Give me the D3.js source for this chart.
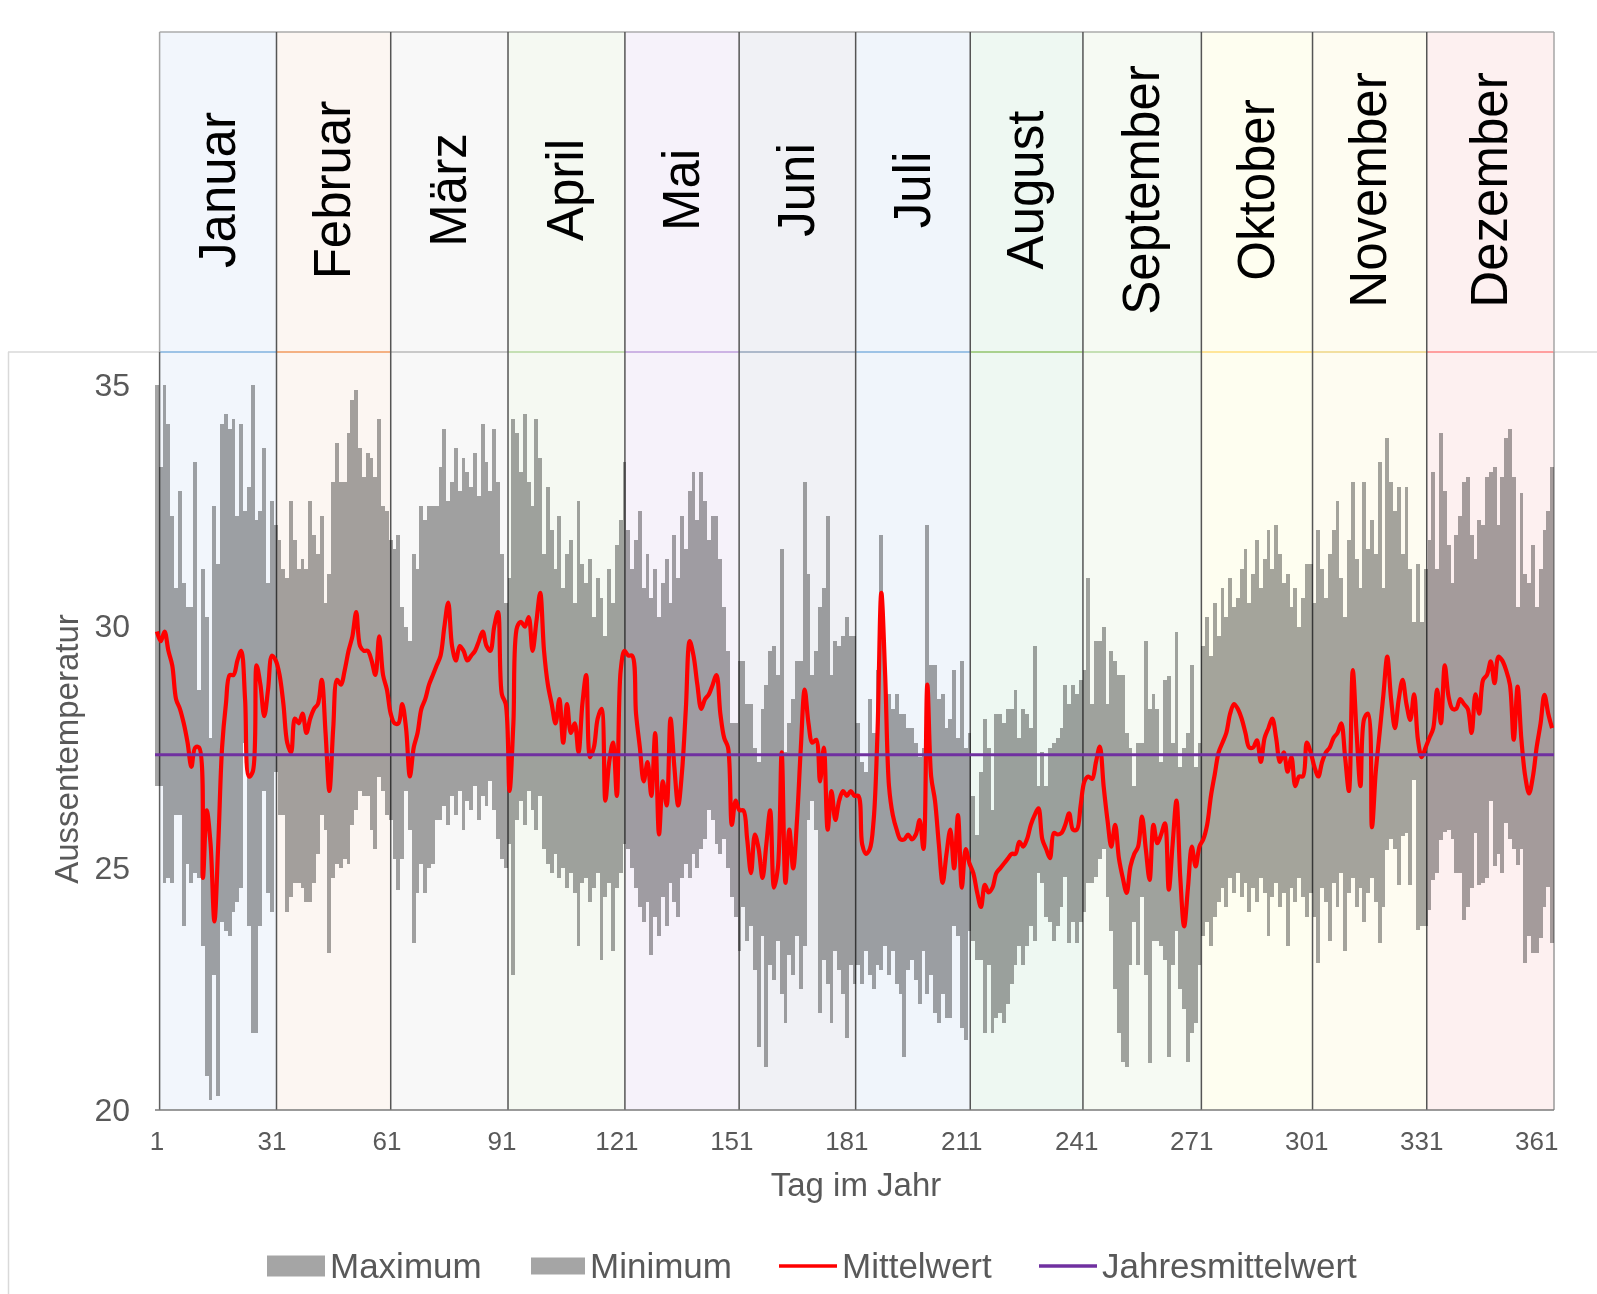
<!DOCTYPE html>
<html>
<head>
<meta charset="utf-8">
<script src="https://cdn.jsdelivr.net/npm/d3@7"></script>
<style>
  html, body { margin: 0; padding: 0; background: #ffffff; }
  svg { display: block; font-family: "Liberation Sans", Arial, sans-serif; }
</style>
</head>
<body>
<svg id="chart" width="1597" height="1294"></svg>
<script>
// ---- data ---------------------------------------------------------------
const monthNames = ["Januar", "Februar", "März", "April", "Mai", "Juni",
                    "Juli", "August", "September", "Oktober", "November", "Dezember"];
// month panel boundaries, in day units along the year axis
const monthEdges = [1.2, 31.7, 61.5, 92.1, 122.6, 152.4, 182.8, 212.7, 242.1, 273.0, 302.0, 331.8, 365.0];
const monthFill = ["#f2f6fc", "#fcf6f2", "#f8f8f8", "#f5f9f2", "#f6f2fa", "#f0f1f5",
                   "#f0f5fb", "#eef8f2", "#f6faf3", "#fefef0", "#fefcf1", "#fdf0f0"];
const monthAccent = ["#9dc3e6", "#f4b183", "#c9c9c9", "#c5e0b4", "#cdb4e4", "#adb9ca",
                     "#9dc3e6", "#a9d18e", "#c5e0b4", "#ffe699", "#f2dfa0", "#ff9f9f"];

const dailyMax = [
  35.0, 33.3, 35.0, 34.2, 32.3, 30.8, 32.8, 30.9, 30.4, 30.4, 33.4, 28.7, 31.2, 30.2, 27.7, 32.5, 31.3, 34.2, 34.4, 34.1, 34.3, 32.3, 34.2, 32.4, 32.9, 35.0, 32.2, 32.4, 33.7, 30.9, 32.6,
  32.1, 31.8, 31.2, 31.0, 32.6, 31.8, 31.2, 31.4, 31.2, 32.6, 31.9, 31.5, 32.3, 30.5, 31.1, 33.0, 33.8, 33.0, 33.0, 34.0, 34.7, 34.9, 33.7, 33.1, 33.6, 33.5, 33.1, 34.3,
  32.5, 32.4, 31.8, 31.6, 31.9, 30.4, 30.0, 29.7, 31.5, 31.2, 32.5, 32.2, 32.5, 32.5, 32.5, 33.3, 34.1, 32.6, 33.0, 33.7, 32.8, 33.5, 33.2, 32.9, 33.6, 32.7, 34.2, 33.4, 32.8, 34.1, 33.0,
  31.5, 30.5, 31.0, 34.3, 34.0, 33.2, 34.4, 33.0, 32.5, 34.3, 33.5, 31.5, 32.9, 32.0, 31.2, 32.3, 30.8, 31.5, 31.8, 30.5, 32.6, 31.3, 30.9, 31.4, 30.2, 31.0, 30.6, 29.8, 31.2, 30.5,
  31.7, 32.2, 33.4, 32.0, 31.2, 31.8, 32.4, 30.8, 31.5, 30.6, 31.2, 30.2, 30.9, 31.4, 30.5, 31.9, 31.0, 32.3, 31.6, 32.8, 33.2, 32.2, 33.2, 32.6, 31.8, 32.3, 32.3, 31.4, 30.4, 29.5, 28.0,
  28.0, 29.3, 29.3, 28.4, 28.4, 27.5, 27.2, 28.3, 28.8, 29.5, 29.6, 29.0, 31.6, 27.4, 28.0, 28.5, 29.3, 29.3, 33.0, 31.1, 29.0, 29.5, 30.4, 30.8, 32.3, 29.0, 29.7, 29.6, 29.8, 30.2,
  29.8, 29.8, 28.0, 27.2, 27.0, 28.5, 27.8, 29.1, 31.9, 29.1, 28.6, 28.3, 28.6, 28.2, 28.2, 27.9, 27.9, 27.6, 27.3, 27.5, 32.1, 29.2, 29.2, 28.5, 28.6, 27.9, 28.1, 29.1, 27.7, 29.3, 27.5,
  27.8, 26.5, 25.7, 27.0, 28.1, 27.5, 26.2, 28.2, 28.2, 28.0, 28.3, 28.3, 28.7, 27.7, 28.3, 28.2, 27.9, 29.6, 26.7, 27.4, 26.7, 27.5, 27.6, 27.7, 27.9, 28.8, 28.4, 28.8, 28.6, 28.9, 29.1,
  31.0, 28.4, 29.7, 29.7, 30.0, 28.4, 29.5, 29.3, 29.0, 29.0, 27.8, 27.5, 26.7, 27.6, 27.6, 29.7, 28.3, 28.6, 28.3, 27.2, 28.9, 28.97, 27.6, 29.9, 27.1, 27.5, 27.8, 29.2, 27.1, 27.6,
  29.6, 30.2, 29.4, 30.5, 29.8, 30.8, 30.2, 31.0, 30.4, 30.6, 31.2, 31.6, 30.5, 31.1, 31.8, 30.8, 31.4, 32.0, 31.2, 32.1, 31.5, 30.9, 31.1, 30.4, 30.8, 30.0, 30.6, 31.3, 31.3, 30.5, 32.0,
  31.2, 30.6, 31.5, 32.0, 32.6, 31.0, 30.2, 31.8, 33.0, 31.4, 30.8, 33.0, 31.6, 32.2, 31.5, 33.4, 30.8, 33.9, 33.0, 32.4, 32.9, 31.5, 32.9, 31.2, 30.1, 31.3, 30.1, 31.2, 31.8, 33.2,
  31.2, 34.0, 32.8, 31.7, 30.9, 31.9, 32.3, 33.0, 33.1, 31.9, 31.4, 32.2, 32.1, 33.1, 33.2, 33.3, 32.1, 33.1, 33.9, 34.1, 33.1, 30.4, 32.76, 31.1, 30.9, 31.7, 30.4, 31.2, 32.0, 32.4, 33.3
];

const dailyMin = [
  26.7, 26.7, 24.7, 24.8, 24.7, 26.1, 26.1, 23.8, 25.1, 24.7, 24.9, 24.8, 23.4, 20.7, 20.2, 22.8, 20.3, 23.9, 23.7, 23.6, 24.1, 24.3, 24.6, 27.6, 23.8, 21.6, 21.6, 23.8, 26.6, 24.5, 24.1,
  27.0, 26.1, 26.1, 24.1, 24.4, 24.7, 24.7, 24.6, 24.3, 24.3, 24.7, 25.3, 26.1, 25.8, 23.25, 24.8, 25.1, 25.0, 25.2, 25.1, 25.9, 26.2, 26.6, 26.5, 26.5, 25.8, 25.4, 26.9,
  26.6, 26.1, 26.0, 25.2, 24.55, 25.2, 26.6, 25.8, 23.45, 24.5, 25.1, 24.5, 25.0, 25.1, 26.0, 26.0, 26.3, 25.9, 26.5, 26.1, 26.6, 25.8, 26.4, 26.2, 26.7, 26.0, 26.5, 26.3, 26.8, 26.2, 25.6,
  25.2, 25.0, 25.5, 22.8, 26.0, 26.4, 25.9, 26.6, 26.2, 25.8, 26.5, 25.4, 25.1, 24.9, 25.3, 24.8, 25.0, 24.6, 24.9, 24.5, 23.4, 24.7, 24.8, 24.3, 24.6, 24.9, 23.1, 24.4, 24.7, 23.3,
  24.6, 24.9, 25.5, 25.4, 25.0, 24.6, 24.2, 23.9, 24.3, 23.2, 24.0, 23.6, 24.4, 23.8, 24.7, 24.3, 24.0, 24.8, 25.1, 24.8, 25.3, 25.0, 25.4, 25.6, 26.2, 26.0, 25.5, 25.3, 25.6, 25.0, 24.4,
  24.0, 23.3, 24.2, 23.5, 23.8, 22.9, 21.3, 23.6, 20.9, 23.0, 22.7, 23.5, 22.4, 21.8, 23.2, 22.8, 23.6, 22.5, 23.4, 26.0, 26.4, 25.8, 22.0, 23.1, 22.6, 21.8, 23.3, 22.9, 22.4, 21.5,
  23.0, 22.6, 23.0, 22.6, 23.3, 22.8, 22.5, 23.0, 22.9, 23.4, 22.8, 23.3, 22.6, 22.4, 21.1, 22.9, 23.1, 22.7, 22.2, 23.3, 22.4, 22.8, 22.0, 21.8, 22.4, 21.9, 21.9, 23.8, 23.6, 21.7, 21.45,
  23.7, 23.5, 23.1, 23.1, 21.6, 23.0, 21.6, 21.9, 22.0, 21.8, 22.2, 22.6, 23.0, 23.4, 23.0, 23.4, 23.8, 23.5, 24.9, 24.7, 24.0, 23.9, 23.5, 23.8, 24.2, 24.83, 23.45, 23.9, 23.45, 23.9, 24.1,
  24.7, 24.7, 24.83, 25.2, 25.4, 24.4, 23.7, 22.5, 21.6, 21.0, 20.9, 23.0, 23.9, 23.0, 24.4, 22.8, 20.97, 23.5, 23.5, 23.4, 23.1, 21.1, 23.0, 23.7, 22.5, 22.1, 21.0, 21.6, 21.8, 23.0,
  23.6, 23.9, 23.4, 24.0, 24.3, 24.6, 24.2, 24.8, 24.5, 24.9, 24.4, 24.7, 24.1, 24.6, 24.3, 24.8, 24.5, 23.6, 24.4, 24.7, 24.2, 24.5, 23.4, 24.6, 24.3, 24.8, 24.4, 24.0, 24.5, 24.0, 23.05,
  24.6, 24.3, 23.5, 24.7, 24.2, 24.9, 23.3, 24.5, 24.8, 24.2, 24.6, 23.9, 24.5, 24.8, 24.3, 23.45, 24.2, 25.38, 25.6, 25.4, 24.66, 25.66, 25.73, 24.66, 26.83, 23.73, 23.8, 23.8, 24.14, 24.76,
  24.9, 25.59, 25.76, 25.8, 25.6, 24.9, 24.9, 23.94, 24.2, 24.6, 25.73, 24.66, 24.7, 24.8, 26.4, 25.04, 25.3, 24.9, 25.93, 25.6, 25.4, 25.07, 25.4, 23.04, 23.59, 23.24, 23.24, 23.56, 24.21, 24.62, 23.45
];

const dailyMean = [
  29.9, 29.7, 29.9, 29.5, 29.2, 28.5, 28.3, 28.0, 27.6, 27.1, 27.5, 27.5, 24.8, 26.2, 25.5, 23.9, 25.5, 27.5, 28.4, 29.0, 29.0, 29.3, 29.5, 28.5, 26.9, 27.0, 29.2, 28.8, 28.15, 28.7, 29.4,
  29.3, 29.0, 28.4, 27.6, 27.4, 28.1, 28.0, 28.2, 27.8, 28.1, 28.3, 28.4, 28.9, 27.8, 26.6, 27.9, 28.9, 28.8, 29.1, 29.5, 29.8, 30.3, 29.6, 29.5, 29.5, 29.3, 29.0, 29.8,
  29.0, 28.7, 28.2, 28.0, 28.0, 28.4, 27.9, 26.9, 27.5, 27.8, 28.3, 28.5, 28.8, 29.0, 29.2, 29.4, 30.0, 30.5, 29.6, 29.3, 29.6, 29.5, 29.3, 29.4, 29.5, 29.7, 29.9, 29.6, 29.5, 30.0, 30.3,
  28.6, 28.4, 26.6, 28.0, 30.0, 30.1, 30.0, 30.2, 29.5, 30.1, 30.7, 29.5, 28.8, 28.4, 28.0, 28.5, 27.6, 28.4, 27.8, 28.0, 27.4, 28.4, 29.0, 27.3, 27.5, 28.1, 28.3, 26.4, 27.2, 27.6,
  26.5, 29.1, 29.5, 29.4, 29.4, 28.2, 27.5, 26.8, 27.2, 26.5, 27.8, 25.7, 26.8, 26.3, 28.1, 27.1, 26.3, 27.0, 28.3, 29.7, 29.4, 28.8, 28.3, 28.5, 28.6, 28.8, 29.0, 28.2, 27.7, 27.5, 25.9,
  26.4, 26.2, 26.2, 25.6, 24.9, 25.7, 25.4, 24.8, 25.5, 26.2, 24.6, 25.0, 27.4, 24.7, 25.8, 25.0, 26.0, 27.5, 28.7, 28.0, 27.6, 27.66, 26.8, 27.5, 25.8, 26.6, 26.0, 26.4, 26.6, 26.5,
  26.6, 26.5, 26.5, 25.5, 25.3, 25.4, 26.0, 27.8, 30.7, 29.0, 26.7, 26.1, 25.8, 25.6, 25.6, 25.7, 25.6, 25.7, 26.0, 25.4, 28.8, 26.9, 26.4, 25.5, 24.7, 25.3, 25.8, 25.0, 26.1, 24.6, 25.4,
  25.1, 24.9, 24.5, 24.2, 24.66, 24.5, 24.6, 24.9, 25.0, 25.1, 25.2, 25.3, 25.3, 25.55, 25.45, 25.6, 25.9, 26.1, 26.24, 25.6, 25.4, 25.21, 25.73, 25.7, 25.73, 25.9, 26.14, 25.8, 25.8, 26.3, 26.8,
  26.9, 26.85, 27.2, 27.52, 26.7, 26.0, 25.45, 25.9, 25.2, 24.8, 24.49, 25.04, 25.3, 25.45, 26.07, 25.4, 24.76, 25.9, 25.52, 25.7, 25.93, 24.56, 25.5, 26.4, 24.8, 23.8, 24.6, 25.45, 25.04, 25.45,
  25.6, 25.9, 26.5, 26.95, 27.4, 27.6, 27.8, 28.2, 28.4, 28.3, 28.1, 27.8, 27.5, 27.5, 27.65, 27.2, 27.7, 27.9, 28.1, 27.7, 27.2, 27.4, 27.0, 27.3, 26.7, 26.9, 26.9, 27.6, 27.4, 27.1, 26.9,
  27.2, 27.4, 27.5, 27.7, 27.8, 28.0, 27.3, 26.6, 29.1, 27.8, 26.7, 28.1, 28.2, 25.85, 27.0, 27.8, 28.6, 29.38, 28.5, 27.9, 28.5, 28.9, 28.4, 28.07, 28.6, 27.66, 27.3, 27.5, 27.7, 27.9,
  28.7, 28.0, 29.2, 28.55, 28.3, 28.3, 28.5, 28.4, 28.3, 27.8, 28.6, 28.2, 28.9, 29.0, 29.28, 28.83, 29.38, 29.3, 29.1, 28.8, 27.66, 28.76, 27.66, 26.9, 26.55, 26.9, 27.52, 28.0, 28.59, 28.2, 27.9
];

const annualMean = 27.35;
const dayTicks = [1, 31, 61, 91, 121, 151, 181, 211, 241, 271, 301, 331, 361];
const tempTicks = [20, 25, 30, 35];

const legendItems = [
  { label: "Maximum", kind: "bar" },
  { label: "Minimum", kind: "bar" },
  { label: "Mittelwert", kind: "line", color: "#ff0000" },
  { label: "Jahresmittelwert", kind: "line", color: "#7030a0" }
];

// ---- layout -------------------------------------------------------------
const W = 1597, H = 1294;
const plot = { left: 155, right: 1554, top: 385, bottom: 1110 };
const header = { top: 32, bottom: 352 };
const textGray = "#595959";
const barGray = "#a5a5a5";

const svg = d3.select("#chart");

const days = d3.range(1, dailyMean.length + 1);
const rows = days.map((d, i) => ({ day: d, max: dailyMax[i], min: dailyMin[i], mean: dailyMean[i] }));

const xBand = d3.scaleBand().domain(days).range([plot.left, plot.right]).paddingInner(0).paddingOuter(0);
const xLin = d3.scaleLinear().domain([0, days.length]).range([plot.left, plot.right]);
const y = d3.scaleLinear().domain([20, 35]).range([plot.bottom, plot.top]);
const xc = d => xBand(d) + xBand.bandwidth() / 2;

// ---- chart frame ----------------------------------------------------------
svg.append("line")
  .attr("x1", 8).attr("x2", W).attr("y1", header.bottom).attr("y2", header.bottom)
  .attr("stroke", "#d9d9d9").attr("stroke-width", 1.5);
svg.append("line")
  .attr("x1", 8.5).attr("x2", 8.5).attr("y1", header.bottom).attr("y2", H)
  .attr("stroke", "#d9d9d9").attr("stroke-width", 1.5);

// ---- month panels ---------------------------------------------------------
const panels = monthNames.map((name, i) => ({
  name, x0: xLin(monthEdges[i]), x1: xLin(monthEdges[i + 1]),
  fill: monthFill[i], accent: monthAccent[i]
}));

const gPanels = svg.append("g").attr("class", "month-panels");
gPanels.selectAll("rect").data(panels).join("rect")
  .attr("x", d => d.x0).attr("y", header.top)
  .attr("width", d => d.x1 - d.x0).attr("height", plot.bottom - header.top)
  .attr("fill", d => d.fill);

gPanels.selectAll("line.accent").data(panels).join("line")
  .attr("class", "accent")
  .attr("x1", d => d.x0).attr("x2", d => d.x1)
  .attr("y1", header.bottom).attr("y2", header.bottom)
  .attr("stroke", d => d.accent).attr("stroke-width", 2);

gPanels.append("line")
  .attr("x1", panels[0].x0).attr("x2", panels[panels.length - 1].x1)
  .attr("y1", header.top).attr("y2", header.top)
  .attr("stroke", "#ababab").attr("stroke-width", 1.5);

gPanels.selectAll("text").data(panels).join("text")
  .attr("transform", d => `translate(${(d.x0 + d.x1) / 2},190) rotate(-90)`)
  .attr("text-anchor", "middle")
  .attr("dy", "0.33em")
  .attr("font-size", 51)
  .attr("fill", "#000")
  .text(d => d.name);

// panel dividers
const inner = panels.slice(1).map(d => d.x0);
gPanels.selectAll("line.div").data(inner).join("line")
  .attr("class", "div")
  .attr("x1", d => d).attr("x2", d => d)
  .attr("y1", header.top).attr("y2", plot.bottom)
  .attr("stroke", "#555555").attr("stroke-width", 1.5);
// outer panel borders
[panels[0].x0, panels[panels.length - 1].x1].forEach((xv, k) => {
  gPanels.append("line")
    .attr("x1", xv).attr("x2", xv).attr("y1", header.top).attr("y2", header.bottom)
    .attr("stroke", "#a6a6a6").attr("stroke-width", 1.5);
  gPanels.append("line")
    .attr("x1", xv).attr("x2", xv).attr("y1", header.bottom).attr("y2", plot.bottom)
    .attr("stroke", k === 0 ? "#606060" : "#9a9a9a").attr("stroke-width", 1.5);
});

// ---- daily range columns (Maximum above the mean, Minimum below it) --------
const gBars = svg.append("g").attr("class", "range-bars")
  .style("mix-blend-mode", "multiply")
  .attr("shape-rendering", "crispEdges");

gBars.append("g").attr("class", "maximum")
  .selectAll("rect").data(rows).join("rect")
  .attr("x", d => xBand(d.day)).attr("width", xBand.bandwidth())
  .attr("y", d => y(d.max)).attr("height", d => y(d.mean) - y(d.max))
  .attr("fill", barGray);

gBars.append("g").attr("class", "minimum")
  .selectAll("rect").data(rows).join("rect")
  .attr("x", d => xBand(d.day)).attr("width", xBand.bandwidth())
  .attr("y", d => y(d.mean)).attr("height", d => y(d.min) - y(d.mean))
  .attr("fill", barGray);

// ---- axes -------------------------------------------------------------------
svg.append("line")
  .attr("x1", plot.left).attr("x2", plot.right).attr("y1", plot.bottom).attr("y2", plot.bottom)
  .attr("stroke", "#7a7a7a").attr("stroke-width", 1.5);

const xAxis = svg.append("g")
  .attr("transform", `translate(0,${plot.bottom})`)
  .call(d3.axisBottom(xBand).tickValues(dayTicks).tickSize(0).tickPadding(22));
xAxis.select(".domain").remove();
xAxis.selectAll("text")
  .attr("font-family", "'Liberation Sans', Arial, sans-serif")
  .attr("font-size", 26).attr("fill", textGray);

const yAxis = svg.append("g")
  .attr("transform", `translate(130,0)`)
  .call(d3.axisLeft(y).tickValues(tempTicks).tickSize(0).tickPadding(0));
yAxis.select(".domain").remove();
yAxis.selectAll("text")
  .attr("font-family", "'Liberation Sans', Arial, sans-serif")
  .attr("font-size", 32).attr("fill", textGray);

svg.append("text")
  .attr("x", 856).attr("y", 1184).attr("dy", "0.35em")
  .attr("text-anchor", "middle").attr("font-size", 33).attr("fill", textGray)
  .text("Tag im Jahr");

svg.append("text")
  .attr("transform", "translate(66,749) rotate(-90)")
  .attr("dy", "0.35em")
  .attr("text-anchor", "middle").attr("font-size", 33).attr("fill", textGray)
  .text("Aussentemperatur");

// ---- mean lines ---------------------------------------------------------------
const meanLine = d3.line()
  .x(d => xc(d.day))
  .y(d => y(d.mean))
  .curve(d3.curveCatmullRom.alpha(0.5));

svg.append("path")
  .datum(rows)
  .attr("d", meanLine)
  .attr("fill", "none")
  .attr("stroke", "#ff0000")
  .attr("stroke-width", 4.2)
  .attr("stroke-linejoin", "round");

svg.append("line")
  .attr("x1", plot.left).attr("x2", plot.right)
  .attr("y1", y(annualMean)).attr("y2", y(annualMean))
  .attr("stroke", "#7030a0").attr("stroke-width", 3);

// ---- legend --------------------------------------------------------------------
const legendY = 1266;
const legendX = [267, 531, 779, 1039];
const gLegend = svg.append("g").attr("class", "legend");
legendItems.forEach((item, i) => {
  const x0 = legendX[i];
  if (item.kind === "bar") {
    const w = i === 0 ? 58 : 54, h = i === 0 ? 21 : 17;
    gLegend.append("rect")
      .attr("x", x0).attr("y", legendY - h / 2).attr("width", w).attr("height", h)
      .attr("fill", barGray);
    gLegend.append("text")
      .attr("x", x0 + w + 5).attr("y", legendY).attr("dy", "0.35em")
      .attr("font-size", 35).attr("fill", textGray).text(item.label);
  } else {
    gLegend.append("line")
      .attr("x1", x0).attr("x2", x0 + 58).attr("y1", legendY).attr("y2", legendY)
      .attr("stroke", item.color).attr("stroke-width", 3.5);
    gLegend.append("text")
      .attr("x", x0 + 63).attr("y", legendY).attr("dy", "0.35em")
      .attr("font-size", 35).attr("fill", textGray).text(item.label);
  }
});
</script>
</body>
</html>
